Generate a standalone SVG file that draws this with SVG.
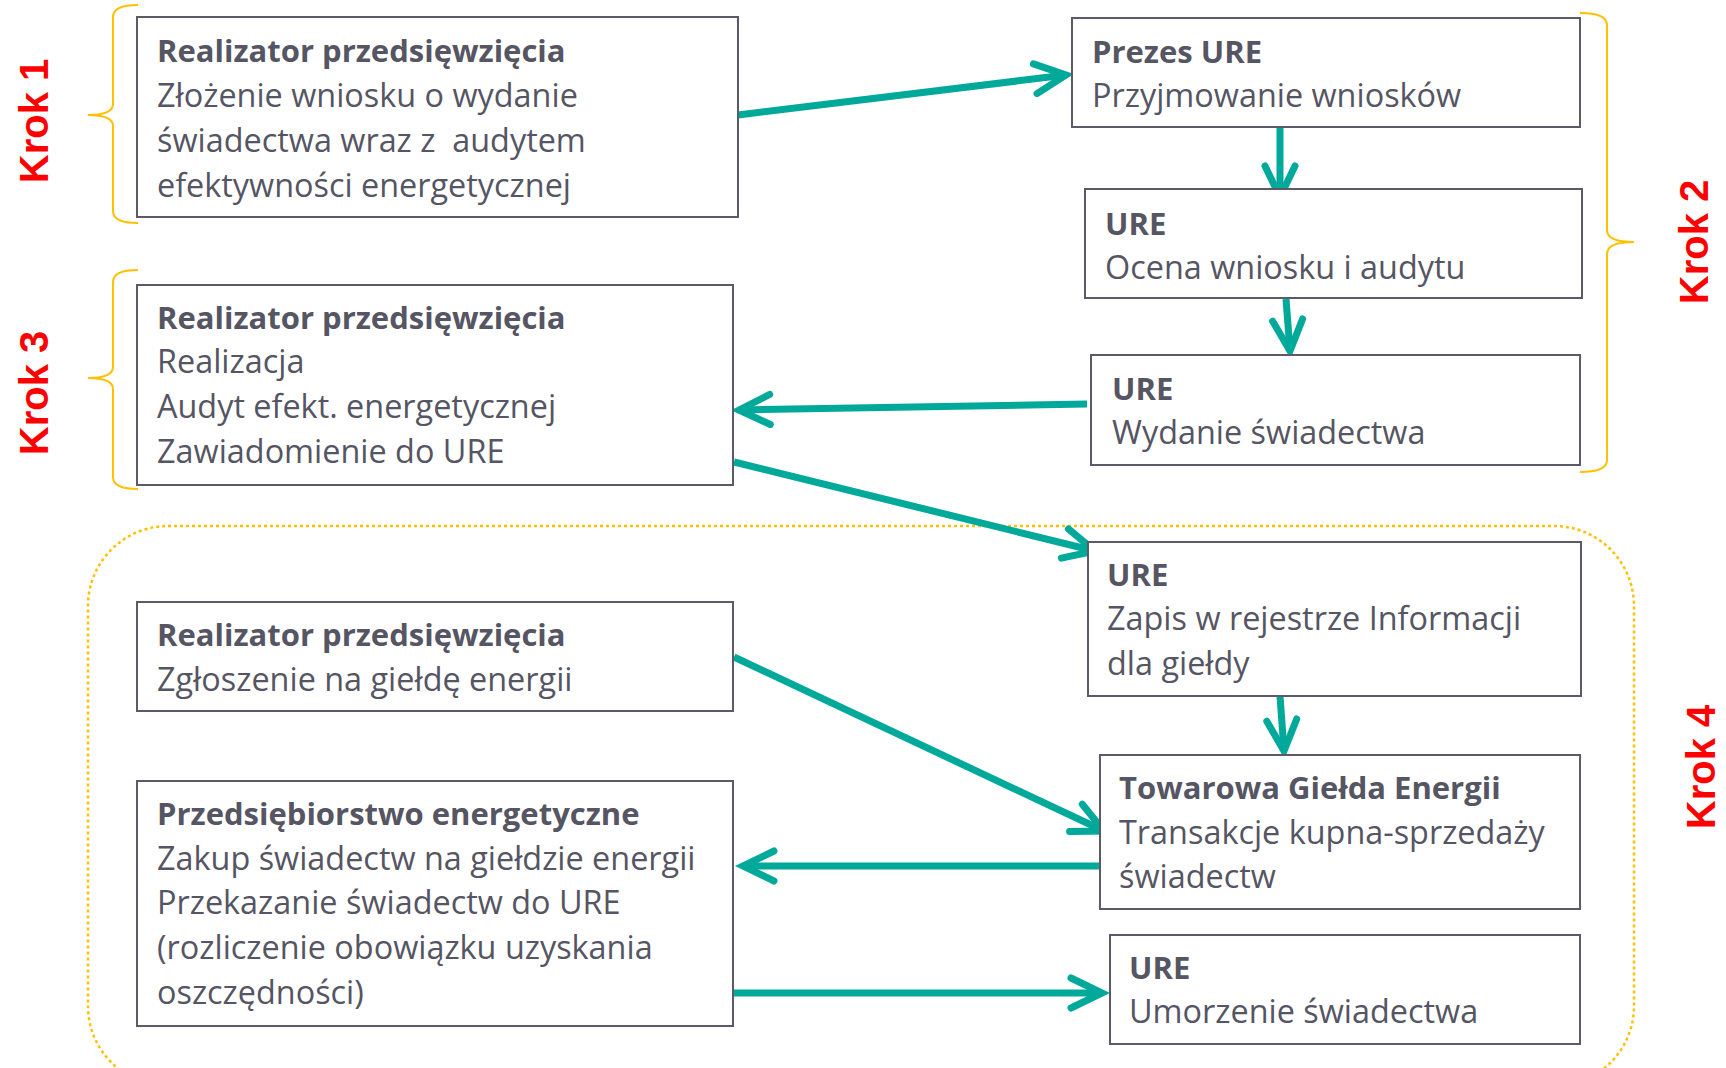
<svg xmlns="http://www.w3.org/2000/svg" width="1726" height="1068" viewBox="0 0 1726 1068">
<defs>
<style>
.box{fill:#ffffff;stroke:#5a5a68;stroke-width:2}
.t{font-family:"Open Sans","Liberation Sans",sans-serif;font-size:32.4px;fill:#555563}
.h{font-weight:700;font-size:31px}
.krok{font-family:"Liberation Sans",Arial,sans-serif;font-size:40px;font-weight:700;fill:#ff0000}
.brace{fill:none;stroke:#ffc000;stroke-width:2}
.arr{fill:none;stroke:#00a99a;stroke-width:7;marker-end:url(#ah)}
</style>
<marker id="ah" markerUnits="userSpaceOnUse" markerWidth="60" markerHeight="60" viewBox="-45 -30 60 60" refX="0" refY="0" orient="auto" overflow="visible">
<path d="M-31,-15 L0,0 L-31,15" fill="none" stroke="#00a99a" stroke-width="7" stroke-linecap="round" stroke-linejoin="miter"/>
</marker>
</defs>
<rect x="0" y="0" width="1726" height="1068" fill="#ffffff"/>

<g id="frames">
<rect id="krok4-frame" x="88" y="526" width="1546" height="560" rx="80" ry="80" fill="none" stroke="#ffc000" stroke-width="2.5" stroke-dasharray="3 3"/>
<path id="brace1" class="brace" d="M138,5 Q113,5 113,17 L113,104 Q113,115 88,115 Q113,115 113,126 L113,211 Q113,223 138,223"/>
<path id="brace3" class="brace" d="M138,270 Q113,270 113,282 L113,367 Q113,378 88,378 Q113,378 113,389 L113,477 Q113,489 138,489"/>
<path id="brace2" class="brace" d="M1580,13 Q1607,13 1607,25 L1607,230 Q1607,242 1634,242 Q1607,242 1607,254 L1607,460 Q1607,472 1580,472"/>
<text class="krok" transform="translate(48,121) rotate(-90)" text-anchor="middle">Krok 1</text>
<text class="krok" transform="translate(48,393) rotate(-90)" text-anchor="middle">Krok 3</text>
<text class="krok" transform="translate(1708,242) rotate(-90)" text-anchor="middle">Krok 2</text>
<text class="krok" transform="translate(1715,767) rotate(-90)" text-anchor="middle">Krok 4</text>
</g>

<g id="connectors">
<path class="arr" d="M738,115 L1066,75"/>
<path class="arr" d="M1280,126 L1280,197"/>
<path class="arr" d="M1286,299 L1290,351"/>
<path class="arr" d="M1087,404 L739,410"/>
<path class="arr" d="M734,462 L1095,551"/>
<path class="arr" d="M1280,696 L1284,751"/>
<path class="arr" d="M734,657 L1104,831"/>
<path class="arr" d="M1104,866 L743,866"/>
<path class="arr" d="M734,993 L1102,993"/>
</g>

<g id="n1">
<rect class="box" x="137" y="17" width="601" height="200"/>
<text class="t h" x="157" y="62">Realizator przedsięwzięcia</text>
<text class="t" x="157" y="107">Złożenie wniosku o wydanie</text>
<text class="t" x="157" y="152" xml:space="preserve">świadectwa wraz z  audytem</text>
<text class="t" x="157" y="197">efektywności energetycznej</text>
</g>
<g id="n2">
<rect class="box" x="1072" y="18" width="508" height="109"/>
<text class="t h" x="1092" y="63">Prezes URE</text>
<text class="t" x="1092" y="107">Przyjmowanie wniosków</text>
</g>
<g id="n3">
<rect class="box" x="1085" y="189" width="497" height="109"/>
<text class="t h" x="1105" y="235">URE</text>
<text class="t" x="1105" y="279">Ocena wniosku i audytu</text>
</g>
<g id="n4">
<rect class="box" x="1091" y="355" width="489" height="110"/>
<text class="t h" x="1112" y="400">URE</text>
<text class="t" x="1112" y="444">Wydanie świadectwa</text>
</g>
<g id="n5">
<rect class="box" x="137" y="285" width="596" height="200"/>
<text class="t h" x="157" y="329">Realizator przedsięwzięcia</text>
<text class="t" x="157" y="373">Realizacja</text>
<text class="t" x="157" y="418">Audyt efekt. energetycznej</text>
<text class="t" x="157" y="463">Zawiadomienie do URE</text>
</g>
<g id="n6">
<rect class="box" x="1088" y="542" width="493" height="154"/>
<text class="t h" x="1107" y="586">URE</text>
<text class="t" x="1107" y="630">Zapis w rejestrze Informacji</text>
<text class="t" x="1107" y="675">dla giełdy</text>
</g>
<g id="n7">
<rect class="box" x="137" y="602" width="596" height="109"/>
<text class="t h" x="157" y="646">Realizator przedsięwzięcia</text>
<text class="t" x="157" y="691">Zgłoszenie na giełdę energii</text>
</g>
<g id="n8">
<rect class="box" x="1100" y="755" width="480" height="154"/>
<text class="t h" x="1119" y="799">Towarowa Giełda Energii</text>
<text class="t" x="1119" y="844">Transakcje kupna-sprzedaży</text>
<text class="t" x="1119" y="888">świadectw</text>
</g>
<g id="n9">
<rect class="box" x="137" y="781" width="596" height="245"/>
<text class="t h" x="157" y="825">Przedsiębiorstwo energetyczne</text>
<text class="t" x="157" y="870">Zakup świadectw na giełdzie energii</text>
<text class="t" x="157" y="914">Przekazanie świadectw do URE</text>
<text class="t" x="157" y="959">(rozliczenie obowiązku uzyskania</text>
<text class="t" x="157" y="1004">oszczędności)</text>
</g>
<g id="n10">
<rect class="box" x="1110" y="935" width="470" height="109"/>
<text class="t h" x="1129" y="979">URE</text>
<text class="t" x="1129" y="1023">Umorzenie świadectwa</text>
</g>
</svg>
